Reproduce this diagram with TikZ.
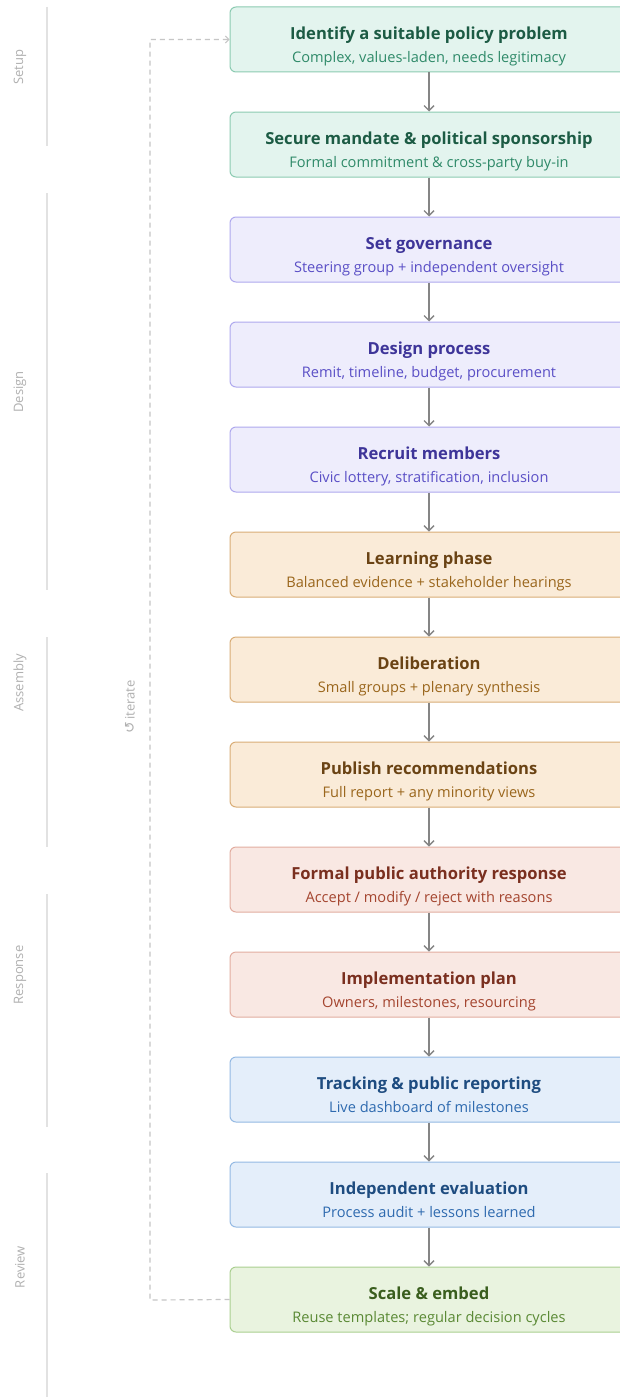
\documentclass[tikz,border=0pt]{standalone}
\usepackage{fontspec}
\setmainfont{Open Sans}
\newfontfamily\symfont{DejaVu Sans}
\usetikzlibrary{arrows.meta}

% palette per phase: fill, border, title, subtitle
\definecolor{tealF}{HTML}{E3F4EE}\definecolor{tealB}{HTML}{8CCBB2}\definecolor{tealT}{HTML}{1C5B44}\definecolor{tealS}{HTML}{2F8A69}
\definecolor{purpF}{HTML}{EEEDFC}\definecolor{purpB}{HTML}{AFA9EE}\definecolor{purpT}{HTML}{3E3599}\definecolor{purpS}{HTML}{5A4FC6}
\definecolor{orgF}{HTML}{FAEBD8}\definecolor{orgB}{HTML}{D9AD77}\definecolor{orgT}{HTML}{6A4314}\definecolor{orgS}{HTML}{9A661C}
\definecolor{redF}{HTML}{F9E8E3}\definecolor{redB}{HTML}{E2ADA0}\definecolor{redT}{HTML}{7A2F1F}\definecolor{redS}{HTML}{A4452F}
\definecolor{bluF}{HTML}{E4EEFA}\definecolor{bluB}{HTML}{94B9E3}\definecolor{bluT}{HTML}{1E4C80}\definecolor{bluS}{HTML}{2E6AAF}
\definecolor{grnF}{HTML}{E9F3DF}\definecolor{grnB}{HTML}{AACF90}\definecolor{grnT}{HTML}{3A5E1E}\definecolor{grnS}{HTML}{5A8934}
\definecolor{flow}{HTML}{858585}
\definecolor{phase}{HTML}{B0B0B0}
\definecolor{rule}{HTML}{E2E2E2}
\definecolor{loop}{HTML}{C6C6C6}

\tikzset{
  stepbox/.style n args={2}{draw=#2, fill=#1, rounded corners=6pt, line width=1pt,
    minimum width=398pt, minimum height=65pt, inner sep=0pt},
  ttl/.style={font=\fontsize{16.6}{18}\selectfont\bfseries, text=#1, inner sep=0pt, anchor=base},
  sub/.style={font=\fontsize{14.6}{16}\selectfont, text=#1, inner sep=0pt, anchor=base},
  flowarrow/.style={draw=flow, line width=1.8pt, -{Straight Barb[length=5pt,width=10pt,line width=1.4pt]}},
  phaseline/.style={draw=rule, line width=1.6pt},
  phaselabel/.style={text=phase, font=\fontsize{13}{15}\selectfont, rotate=90, inner sep=0pt},
  loopline/.style={draw=loop, line width=1.2pt, dash pattern=on 5pt off 4pt},
}

\begin{document}
\begin{tikzpicture}[x=1pt,y=1pt]
\clip (0,0) rectangle (620,-1397);
\fill[white] (0,0) rectangle (620,-1397);

% phase rails and their labels
\draw[phaseline] (47,-7) coordinate (r1a) -- (47,-146) coordinate (r1b);
\draw[phaseline] (47,-193) coordinate (r2a) -- (47,-590) coordinate (r2b);
\draw[phaseline] (47,-637) coordinate (r3a) -- (47,-847) coordinate (r3b);
\draw[phaseline] (47,-894) coordinate (r4a) -- (47,-1127) coordinate (r4b);
\draw[phaseline] (47,-1173) coordinate (r5a) -- (47,-1397) coordinate (r5b);
\node[phaselabel] (lsetup) at (20,-67) {Setup};
\node[phaselabel] (ldesign) at (20,-392) {Design};
\node[phaselabel] (lassembly) at (20,-683) {Assembly};
\node[phaselabel] (lresponse) at (20,-975) {Response};
\node[phaselabel] (lreview) at (20,-1267) {Review};

% process steps
\foreach \n/\y/\c/\t/\s in {
  1/39.5/teal/{Identify a suitable policy problem}/{Complex, values-laden, needs legitimacy},
  2/144.5/teal/{Secure mandate \& political sponsorship}/{Formal commitment \& cross-party buy-in},
  3/249.5/purp/{Set governance}/{Steering group + independent oversight},
  4/354.5/purp/{Design process}/{Remit, timeline, budget, procurement},
  5/459.5/purp/{Recruit members}/{Civic lottery, stratification, inclusion},
  6/564.5/org/{Learning phase}/{Balanced evidence + stakeholder hearings},
  7/669.5/org/{Deliberation}/{Small groups + plenary synthesis},
  8/774.5/org/{Publish recommendations}/{Full report + any minority views},
  9/879.5/red/{Formal public authority response}/{Accept / modify / reject with reasons},
  10/984.5/red/{Implementation plan}/{Owners, milestones, resourcing},
  11/1089.5/blu/{Tracking \& public reporting}/{Live dashboard of milestones},
  12/1194.5/blu/{Independent evaluation}/{Process audit + lessons learned},
  13/1299.5/grn/{Scale \& embed}/{Reuse templates; regular decision cycles}}
{
  \node[stepbox={\c F}{\c B}] (b\n) at (429,-\y) {};
  \node[ttl=\c T] (t\n) at (429,-\y) {\t};
  \node[sub=\c S] (s\n) at (429,-\y-23) {\s};
}

% flow arrows between consecutive steps
\foreach \a/\b in {1/2,2/3,3/4,4/5,5/6,6/7,7/8,8/9,9/10,10/11,11/12,12/13}
  \draw[flowarrow] (b\a.south) -- (b\b.north);

% feedback loop
\coordinate (lpb) at (150,-1300);
\coordinate (lpt) at (150,-39.5);
\draw[loopline, -{Straight Barb[length=3.5pt,width=7pt,line width=1pt]}]
  (b13.west) -- (lpb) -- (lpt) -- (b1.west);
\node[phaselabel] (iter) at (130,-707) {{\symfont\fontsize{14}{16}\selectfont ↺}\,iterate};
\end{tikzpicture}
\end{document}
